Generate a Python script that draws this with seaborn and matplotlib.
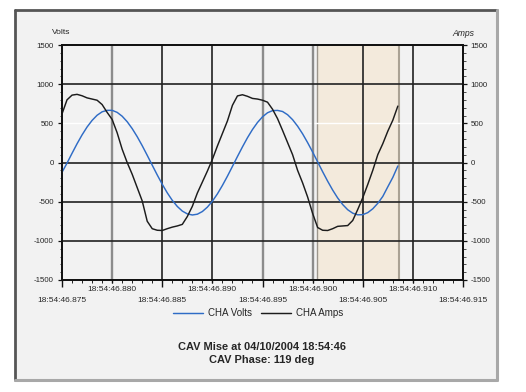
import numpy as np
import pandas as pd
import matplotlib
matplotlib.use("Agg")
import matplotlib.pyplot as plt
from matplotlib.patches import Rectangle
from matplotlib.ticker import AutoMinorLocator, FixedLocator
import seaborn as sns

# ---------------- data ----------------
# time offset in ms from 18:54:46.875
t_ms = [0.0, 0.5, 1.0, 1.5, 2.0, 2.5, 3.0, 3.5, 4.0, 4.5, 5.0, 5.5, 6.0, 6.5,
        7.0, 7.5, 8.0, 8.5, 9.0, 9.5, 10.0, 10.5, 11.0, 11.5, 12.0, 12.5, 13.0,
        13.5, 14.0, 14.5, 15.0, 15.5, 16.0, 16.5, 17.0, 17.5, 18.0, 18.5, 19.0,
        19.5, 20.0, 20.5, 21.0, 21.5, 22.0, 22.5, 23.0, 23.5, 24.0, 24.5, 25.0,
        25.5, 26.0, 26.5, 27.0, 27.5, 28.0, 28.5, 29.0, 29.5, 30.0, 30.5, 31.0,
        31.5, 32.0, 32.5, 33.0, 33.5]
cha_volts = [-125, -8, 117, 239, 352, 453, 537, 603, 647, 666, 666, 640, 591,
             521, 433, 330, 215, 92, -34, -159, -278, -387, -483, -561, -620,
             -656, -670, -660, -626, -570, -494, -401, -293, -175, -50, 76,
             199, 316, 421, 511, 583, 635, 662, 665, 651, 610, 547, 464, 366,
             254, 134, 8, -118, -239, -352, -453, -537, -603, -647, -668, -666,
             -640, -591, -521, -433, -310, -190, -45]
cha_amps = [620, 800, 860, 870, 852, 825, 810, 795, 740, 640, 550, 380, 170, 0,
            -150, -320, -490, -750, -845, -865, -868, -845, -825, -810, -790,
            -690, -560, -390, -250, -110, 40, 210, 370, 530, 730, 850, 865,
            845, 818, 810, 795, 770, 680, 560, 410, 255, 100, -100, -260, -440,
            -650, -830, -865, -868, -845, -815, -810, -805, -740, -600, -450,
            -280, -100, 100, 240, 400, 540, 720]
series_names = ["CHA Volts", "CHA Amps"]
xtick_major_labels = ["18:54:46.875", "18:54:46.885", "18:54:46.895",
                      "18:54:46.905", "18:54:46.915"]
xtick_minor_labels = ["18:54:46.880", "18:54:46.890", "18:54:46.900",
                      "18:54:46.910"]
y_ticks = [-1500, -1000, -500, 0, 500, 1000, 1500]
shade_start, shade_end = 25.45, 33.6
title_lines = ["CAV Mise at 04/10/2004 18:54:46", "CAV Phase: 119 deg"]

df = pd.DataFrame({
    "t": t_ms * 2,
    "value": cha_volts + cha_amps,
    "series": [series_names[0]] * len(t_ms) + [series_names[1]] * len(t_ms),
})

# ---------------- style ----------------
sns.set_theme(style="ticks")
plt.rcParams["font.family"] = ["Liberation Sans", "DejaVu Sans"]

W, H = 526, 392
fig = plt.figure(figsize=(W / 100, H / 100), dpi=100, facecolor="white")

# outer panel
panel_bg = "#f2f2f2"
fig.patches.append(Rectangle((15 / W, 1 - 380 / H), (497 - 15) / W, (380 - 10) / H,
                             transform=fig.transFigure, facecolor=panel_bg,
                             edgecolor="none", zorder=-10))
# borders: dark top/left, lighter right/bottom
fig.add_artist(plt.Line2D([15 / W, 497 / W], [1 - 10 / H, 1 - 10 / H],
                          transform=fig.transFigure, color="#555555", lw=2.0,
                          zorder=-5))
fig.add_artist(plt.Line2D([15 / W, 15 / W], [1 - 10 / H, 1 - 380 / H],
                          transform=fig.transFigure, color="#555555", lw=2.0,
                          zorder=-5))
fig.add_artist(plt.Line2D([497 / W, 497 / W], [1 - 10 / H, 1 - 380 / H],
                          transform=fig.transFigure, color="#a8a8a8", lw=2.2,
                          zorder=-5))
fig.add_artist(plt.Line2D([15 / W, 497 / W], [1 - 380 / H, 1 - 380 / H],
                          transform=fig.transFigure, color="#a8a8a8", lw=2.2,
                          zorder=-5))

L, R, T, B = 62, 463, 45, 280
ax = fig.add_axes([L / W, 1 - B / H, (R - L) / W, (B - T) / H])
ax.set_facecolor(panel_bg)

# shaded region
ax.axvspan(shade_start, shade_end, color="#f3eadc", zorder=0.5, lw=0)
ax.axvline(shade_start, color="#9c968c", lw=1.0, zorder=0.8)
ax.axvline(shade_end, color="#aaa294", lw=1.5, zorder=0.8)

# grid lines
grid_x = [5, 10, 15, 20, 25, 30, 35]
grid_x_colors = ["#8c8c8c", "#222222", "#222222", "#8c8c8c", "#8c8c8c",
                 "#222222", "#222222"]
grid_x_lw = [1.7, 1.2, 1.2, 1.7, 1.7, 1.2, 1.2]
for gx, gc, gl in zip(grid_x, grid_x_colors, grid_x_lw):
    ax.axvline(gx, color=gc, lw=gl, zorder=1)
for gy in [1000, 0, -500, -1000]:
    ax.axhline(gy, color="#222222", lw=1.2, zorder=1)
ax.axhline(500, color="white", lw=1.0, zorder=0.9)

sns.lineplot(data=df, x="t", y="value", hue="series", ax=ax,
             palette={series_names[0]: "#2f6cc6", series_names[1]: "#1c1c1c"},
             linewidth=1.05, zorder=3, sort=False)
handles, labels = ax.get_legend_handles_labels()
ax.get_legend().remove()

ax.set_xlim(0, 40)
ax.set_ylim(-1500, 1500)
ax.set_xlabel("")
ax.set_ylabel("")

for s in ax.spines.values():
    s.set_color("#111111")
    s.set_linewidth(1.3)

# y ticks left
ax.set_yticks(y_ticks)
ax.set_yticklabels([str(v) for v in y_ticks])
ax.yaxis.set_minor_locator(AutoMinorLocator(5))
ax.tick_params(axis="y", which="major", length=3, width=0.9, labelsize=5.7,
               pad=3, color="#111111")
ax.tick_params(axis="y", which="minor", length=1.8, width=0.6, color="#333333")

# x ticks: long major (lower row labels), short minor (upper row labels)
ax.xaxis.set_major_locator(FixedLocator([0, 10, 20, 30, 40]))
ax.set_xticklabels(xtick_major_labels)
ax.xaxis.set_minor_locator(FixedLocator([5, 15, 25, 35]))
ax.set_xticklabels(xtick_minor_labels, minor=True)
ax.tick_params(axis="x", which="major", length=5, width=1.0, labelsize=6.0,
               pad=7.0, color="#111111")
ax.tick_params(axis="x", which="minor", length=2.5, width=1.0, labelsize=6.0,
               pad=2.0, color="#111111")

# 1 ms small ticks
sec = ax.secondary_xaxis("bottom")
sec.set_xticks(list(range(0, 41)))
sec.tick_params(length=2.0, width=0.7, labelbottom=False, color="#222222")
sec.spines["bottom"].set_visible(False)

# right axis (Amps)
ax2 = ax.twinx()
ax2.set_ylim(-1500, 1500)
ax2.set_yticks(y_ticks)
ax2.set_yticklabels([str(v) for v in y_ticks])
ax2.yaxis.set_minor_locator(AutoMinorLocator(5))
ax2.tick_params(axis="y", which="major", length=3, width=0.9, labelsize=5.7,
                pad=2.5, color="#111111")
ax2.tick_params(axis="y", which="minor", length=1.8, width=0.6, color="#333333")
for s in ax2.spines.values():
    s.set_color("#111111")
    s.set_linewidth(1.3)
ax2.grid(False)

# axis titles
fig.text(52 / W, 1 - 33 / H, "Volts", fontsize=6.0, ha="left", va="center")
fig.text(474 / W, 1 - 33 / H, "Amps", fontsize=6.2, ha="right", va="center",
         style="italic")

# legend
fig.legend(handles, labels, loc="center", bbox_to_anchor=(258 / W, 1 - 313 / H),
           ncol=2, frameon=False, fontsize=7.0, handlelength=3.1,
           handletextpad=0.5, columnspacing=1.0)

# footer text
fig.text(262 / W, 1 - 347 / H, title_lines[0], fontsize=7.9, fontweight="bold",
         ha="center", va="center")
fig.text(262 / W, 1 - 360 / H, title_lines[1], fontsize=7.9, fontweight="bold",
         ha="center", va="center")

fig.savefig("out.png", dpi=100, facecolor="white")
